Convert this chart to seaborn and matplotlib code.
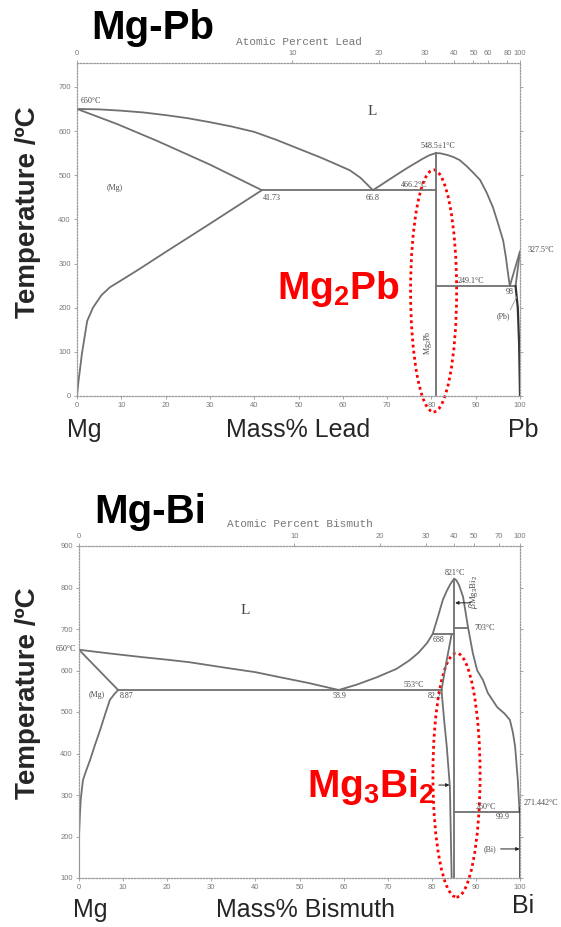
import numpy as np
import matplotlib
matplotlib.use("Agg")
import matplotlib.pyplot as plt
from matplotlib.patches import Ellipse
import seaborn as sns

# ---------------- Mg-Pb diagram (mass % Pb, temperature in °C) ----------------
pb_liq_mg_w = [0, 5, 10, 15, 20, 25, 30, 35, 40, 45, 50, 55, 58, 61.6, 64, 66.8]
pb_liq_mg_t = [650, 649, 646, 642, 636, 629, 620, 610, 598, 580, 560, 540, 527, 511, 494, 466]
pb_sol_mg_w = [0, 9, 18, 30, 41.73]
pb_sol_mg_t = [650, 616, 578, 524, 466]
pb_solv_mg_w = [41.73, 30, 20, 14, 10, 7.4, 5.5, 3.6, 2.3, 1.1, 0.3, 0]
pb_solv_mg_t = [466, 390, 326, 287, 262, 246, 228, 200, 170, 95, 30, 0]
pb_eut1_w = [41.73, 81.0]
pb_eut1_t = [466.2, 466.2]
pb_cmp_left_w = [66.8, 68.5, 70, 72, 74.5, 76.5, 78, 79.5, 81.0]
pb_cmp_left_t = [466, 477, 487, 500, 516, 528, 537, 545, 550]
pb_cmp_right_w = [81.0, 82, 83.5, 85, 86.4, 88, 89.5, 91, 92.5, 93.9, 95, 96.2, 96.8, 97.3, 97.7]
pb_cmp_right_t = [550, 549.5, 546, 541, 534, 520, 505, 489, 460, 427, 392, 352, 315, 277, 249]
pb_cmp_w = [81.0, 81.0]
pb_cmp_t = [0, 550]
pb_eut2_w = [81.0, 99.0]
pb_eut2_t = [249.1, 249.1]
pb_liq_pb_w = [97.7, 100]
pb_liq_pb_t = [249, 327.5]
pb_sol_pb_w = [100, 99.0]
pb_sol_pb_t = [327.5, 249]
pb_solv_pb_w = [99.0, 99.5, 99.8, 100]
pb_solv_pb_t = [249, 200, 120, 0]
pb_xticks_at = [0, 10, 20, 30, 40, 50, 60, 80, 100]

# ---------------- Mg-Bi diagram (mass % Bi, temperature in °C) ----------------
bi_liq_mg_w = [0, 7, 14.5, 20, 25, 33.6, 40, 45, 52, 58.9]
bi_liq_mg_t = [650, 641, 632, 626, 620, 606, 596, 585, 570, 553]
bi_sol_mg_w = [0, 8.87]
bi_sol_mg_t = [650, 553]
bi_solv_mg_w = [8.87, 8.0, 7.0, 6.0, 4.8, 3.6, 2.5, 1.6, 0.9, 0.4, 0.2, 0, 0]
bi_solv_mg_t = [553, 543, 529, 497, 457, 420, 384, 358, 336, 290, 250, 200, 100]
bi_eut1_w = [8.87, 82.2]
bi_eut1_t = [553, 553]
bi_liq_mid_w = [58.9, 63, 67.6, 72, 75, 77, 78.9, 80.2]
bi_liq_mid_t = [553, 566, 584, 604, 625, 643, 666, 688]
bi_per_w = [80.2, 85.1]
bi_per_t = [688, 688]
bi_peak_left_w = [80.2, 81.4, 82.5, 83.4, 84.2, 84.7, 85.1]
bi_peak_left_t = [688, 730, 770, 792, 808, 816, 821]
bi_peak_right_w = [85.1, 85.6, 86.2, 87.1, 88.2, 89.3, 90.3, 91.6, 92.7, 94.8, 96.5, 97.7, 98.4, 98.9, 99.5, 99.9]
bi_peak_right_t = [821, 817, 805, 777, 705, 642, 600, 577, 546, 512, 496, 481, 450, 416, 336, 260]
bi_cmp_w = [85.1, 85.1]
bi_cmp_t = [100, 821]
bi_cmp_low_w = [82.2, 82.8, 83.4, 84.1, 84.5]
bi_cmp_low_t = [553, 480, 416, 320, 100]
bi_cmp_up_w = [82.2, 83.3, 84.5]
bi_cmp_up_t = [553, 620, 688]
bi_tr_w = [85.1, 88.2]
bi_tr_t = [703, 703]
bi_eut2_w = [85.1, 99.9]
bi_eut2_t = [260, 260]
bi_bi_w = [99.9, 100]
bi_bi_t = [260, 271.442]
bi_xticks_at = [0, 10, 20, 30, 40, 50, 70, 100]

M_MG, M_PB, M_BI = 24.305, 207.2, 208.98

LINE = "#707070"
TXT = "#4a4a4a"
TICK = "#7a7a7a"
SPINE = "#9a9a9a"
RED = "#ff0000"

sns.set_theme(style="white")
plt.rcParams["font.family"] = ["Liberation Sans", "DejaVu Sans"]
plt.rcParams["mathtext.fontset"] = "custom"
plt.rcParams["mathtext.rm"] = "Liberation Sans"
plt.rcParams["mathtext.it"] = "Liberation Sans:italic"
plt.rcParams["mathtext.bf"] = "Liberation Sans:bold"

W, H = 561, 927
fig = plt.figure(figsize=(W / 100, H / 100), dpi=100)


def fx(x):
    return x / W


def fy(y):
    return 1 - y / H


def mass_to_at(M):
    def f(w):
        w = np.clip(np.asarray(w, float), 0, 100)
        nb = w / M
        nm = (100 - w) / M_MG
        return 100 * nb / (nb + nm)
    return f


def at_to_mass(M):
    def f(a):
        a = np.clip(np.asarray(a, float), 0, 100)
        return 100 * a * M / (a * M + (100 - a) * M_MG)
    return f


def curve(ax, w, t, lw=1.3, color=LINE):
    sns.lineplot(x=w, y=t, ax=ax, sort=False, estimator=None,
                 color=color, lw=lw, legend=False)


def style_axes(ax, ylo, yhi, M, at_ticks):
    ax.set_xlim(0, 100)
    ax.set_xticks(range(0, 101, 10))
    ax.set_yticks(range(ylo, yhi + 1, 100))
    ax.set_ylim(ylo, yhi)
    ax.set_xlabel("")
    ax.set_ylabel("")
    ax.spines["top"].set_visible(False)
    for s in ("left", "right", "bottom"):
        ax.spines[s].set_linestyle((0, (1, 1.3)))
        ax.spines[s].set_color(SPINE)
        ax.spines[s].set_linewidth(0.9)
    ax.tick_params(axis="both", which="major", length=2.5, width=0.6,
                   color=SPINE, labelsize=5.5, labelcolor=TICK, pad=2,
                   direction="out", left=True, bottom=True)
    ax.tick_params(axis="y", right=True, labelright=False)
    ax.grid(False)
    sec = ax.secondary_xaxis("top", functions=(mass_to_at(M), at_to_mass(M)))
    sec.set_xticks(at_ticks)
    sec.tick_params(length=2.5, width=0.6, color=SPINE, labelsize=5.5,
                    labelcolor=TICK, pad=2)
    sec.spines["top"].set_linestyle((0, (1, 1.3)))
    sec.spines["top"].set_color(SPINE)
    sec.spines["top"].set_linewidth(0.9)
    return sec


def small(ax, x, y, s, ha="center", va="center", size=5.8, **kw):
    ax.text(x, y, s, ha=ha, va=va, fontsize=size, color=TXT,
            family=["Liberation Serif", "DejaVu Serif"], clip_on=False, **kw)


def arrow(ax, x0, y0, x1, y1):
    ax.annotate("", xy=(x1, y1), xytext=(x0, y0),
                arrowprops=dict(arrowstyle="-|>", color="#222222", lw=0.7,
                                mutation_scale=5, shrinkA=0, shrinkB=0))


# ================= Mg-Pb =================
ax1 = fig.add_axes([fx(77), fy(396), (520 - 77) / W, (396 - 63) / H])
for w, t in [(pb_liq_mg_w, pb_liq_mg_t), (pb_sol_mg_w, pb_sol_mg_t),
             (pb_solv_mg_w, pb_solv_mg_t), (pb_eut1_w, pb_eut1_t),
             (pb_cmp_left_w, pb_cmp_left_t), (pb_cmp_right_w, pb_cmp_right_t),
             (pb_cmp_w, pb_cmp_t), (pb_eut2_w, pb_eut2_t),
             (pb_liq_pb_w, pb_liq_pb_t), (pb_sol_pb_w, pb_sol_pb_t)]:
    curve(ax1, w, t)
curve(ax1, pb_solv_pb_w, pb_solv_pb_t, lw=1.6, color="#333333")
style_axes(ax1, 0, 754, M_PB, pb_xticks_at)
ax1.set_ylim(0, 754)

small(ax1, 0.8, 660, "650°C", ha="left", va="bottom")
ax1.text(66.7, 645, "L", fontsize=11, color=TXT,
         family=["Liberation Serif"], ha="center", va="center")
small(ax1, 8.6, 470, "(Mg)")
small(ax1, 42.0, 458, "41.73", ha="left", va="top")
small(ax1, 66.8, 458, "66.8", ha="center", va="top")
small(ax1, 76.0, 469, "466.2°C", ha="center", va="bottom")
small(ax1, 81.5, 556, "548.5±1°C", ha="center", va="bottom")
small(ax1, 89.0, 251, "249.1°C", ha="center", va="bottom")
small(ax1, 97.7, 244, "98", ha="center", va="top")
small(ax1, 96.3, 180, "(Pb)")
sns.lineplot(x=[97.8, 99.3], y=[195, 225], ax=ax1, color="#999999", lw=0.6,
             sort=False, estimator=None, legend=False)
small(ax1, 101.8, 330, "327.5°C", ha="left", va="center")
small(ax1, 79.3, 120, r"Mg$_2$Pb", rotation=90, size=5.8)

ax1.add_patch(Ellipse((80.5, 238), 10.4, 548, fill=False, ec=RED, lw=2.0,
                      ls=(0, (1, 1.2)), clip_on=False))

# ================= Mg-Bi =================
ax2 = fig.add_axes([fx(79), fy(878), (520 - 79) / W, (878 - 546) / H])
for w, t in [(bi_liq_mg_w, bi_liq_mg_t), (bi_sol_mg_w, bi_sol_mg_t),
             (bi_solv_mg_w, bi_solv_mg_t), (bi_eut1_w, bi_eut1_t),
             (bi_liq_mid_w, bi_liq_mid_t), (bi_per_w, bi_per_t),
             (bi_peak_left_w, bi_peak_left_t), (bi_peak_right_w, bi_peak_right_t),
             (bi_cmp_w, bi_cmp_t), (bi_cmp_low_w, bi_cmp_low_t),
             (bi_cmp_up_w, bi_cmp_up_t), (bi_tr_w, bi_tr_t),
             (bi_eut2_w, bi_eut2_t), (bi_bi_w, bi_bi_t)]:
    curve(ax2, w, t)
curve(ax2, [100, 100], [100, 271.442], lw=1.8, color="#222222")
style_axes(ax2, 100, 900, M_BI, bi_xticks_at)

small(ax2, -0.6, 652, "650°C", ha="right", va="center")
ax2.text(37.6, 745, "L", fontsize=11, color=TXT,
         family=["Liberation Serif"], ha="center", va="center")
small(ax2, 4.0, 541, "(Mg)")
small(ax2, 9.3, 549, "8.87", ha="left", va="top")
small(ax2, 59.0, 549, "58.9", ha="center", va="top")
small(ax2, 76.0, 556, "553°C", ha="center", va="bottom")
small(ax2, 80.6, 549, "82.2", ha="center", va="top")
small(ax2, 81.6, 684, "688", ha="center", va="top")
small(ax2, 85.3, 826, "821°C", ha="center", va="bottom")
small(ax2, 89.6, 703, "703°C", ha="left", va="center")
small(ax2, 92.3, 262, "260°C", ha="center", va="bottom")
small(ax2, 96.0, 256, "99.9", ha="center", va="top")
small(ax2, 100.8, 272, "271.442°C", ha="left", va="bottom")
small(ax2, 93.2, 170, "(Bi)")
arrow(ax2, 95.6, 170, 99.9, 170)
small(ax2, 89.4, 790, r"$\beta$Mg$_3$Bi$_2$", rotation=90, size=6.2)
arrow(ax2, 88.8, 763, 85.3, 763)
arrow(ax2, 81.6, 324, 84.0, 324)

ax2.add_patch(Ellipse((85.6, 348), 10.7, 588, fill=False, ec=RED, lw=2.0,
                      ls=(0, (1, 1.2)), clip_on=False))

# ================= figure texts =================
fig.text(fx(153), fy(39), "Mg-Pb", fontsize=29, fontweight="bold",
         ha="center", va="baseline", color="black")
fig.text(fx(150), fy(523), "Mg-Bi", fontsize=29, fontweight="bold",
         ha="center", va="baseline", color="black")
fig.text(fx(299), fy(42), "Atomic Percent Lead", fontsize=8, color="#777777",
         family=["Liberation Mono"], ha="center", va="center")
fig.text(fx(300), fy(524), "Atomic Percent Bismuth", fontsize=8,
         color="#777777", family=["Liberation Mono"], ha="center", va="center")

for yc in (212, 693):
    fig.text(fx(28), fy(yc), "Temperature /ºC", fontsize=20,
             fontweight="bold", rotation=90, ha="center", va="center")

fig.text(fx(67), fy(437), "Mg", fontsize=18, ha="left", va="baseline")
fig.text(fx(298), fy(437), "Mass% Lead", fontsize=18, ha="center",
         va="baseline")
fig.text(fx(508), fy(437), "Pb", fontsize=18, ha="left", va="baseline")
fig.text(fx(73), fy(917), "Mg", fontsize=18, ha="left", va="baseline")
fig.text(fx(306), fy(917), "Mass% Bismuth", fontsize=18, ha="center",
         va="baseline")
fig.text(fx(512), fy(913), "Bi", fontsize=18, ha="left", va="baseline")

fig.text(fx(338), fy(299), r"Mg$_\mathbf{2}$Pb", fontsize=28,
         fontweight="bold", color=RED, ha="center", va="baseline")
fig.text(fx(371), fy(797), r"Mg$_\mathbf{3}$Bi$_\mathbf{2}$", fontsize=28,
         fontweight="bold", color=RED, ha="center", va="baseline")

fig.savefig("out.png", dpi=100, facecolor="white")
